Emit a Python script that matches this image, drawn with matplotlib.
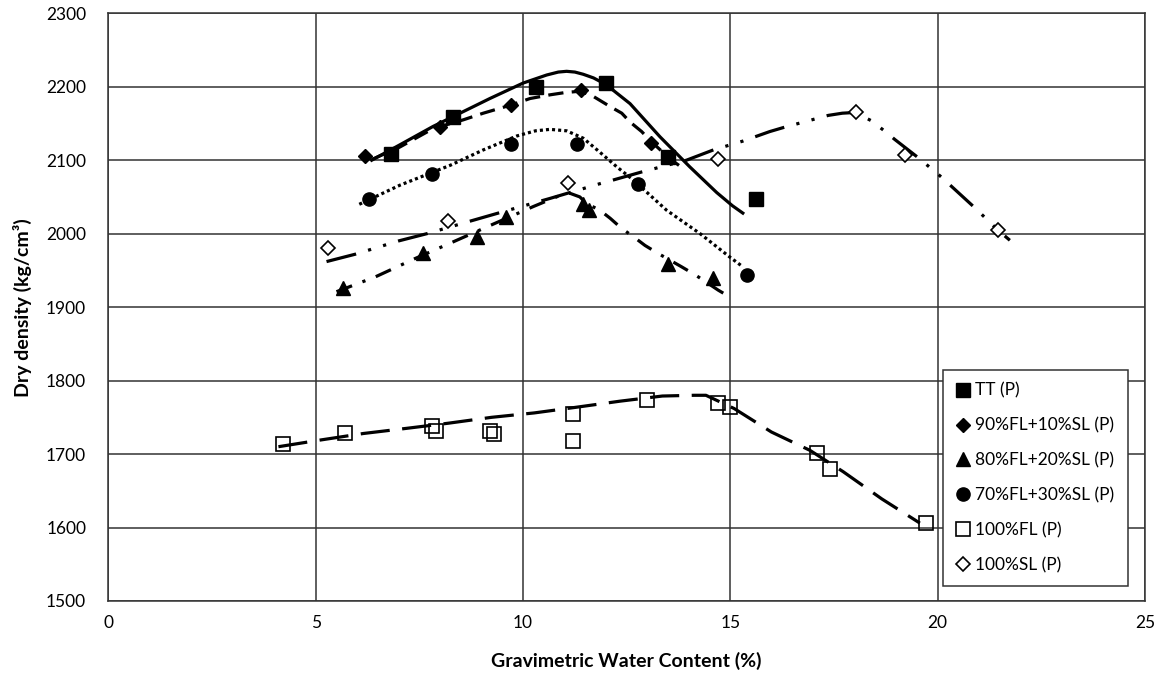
import matplotlib
matplotlib.use("Agg")
import matplotlib.pyplot as plt

plt.rcParams['font.family'] = ['Lato', 'DejaVu Sans']
plt.rcParams['lines.scale_dashes'] = False

# ---- measured points ----
tt_x = [6.81, 8.30, 10.30, 12.00, 13.49, 15.62]
tt_y = [2109, 2159, 2200, 2205, 2105, 2047]

fl90_x = [6.19, 7.99, 9.70, 11.39, 13.08]
fl90_y = [2106, 2145, 2175, 2195, 2124]

fl80_x = [5.66, 7.59, 8.90, 9.60, 11.45, 11.60, 13.50, 14.59]
fl80_y = [1926, 1974, 1996, 2023, 2040, 2032, 1959, 1939]

fl70_x = [6.29, 7.80, 9.70, 11.29, 12.78, 15.39]
fl70_y = [2047, 2081, 2122, 2122, 2068, 1944]

fl100_x = [4.20, 5.71, 7.80, 7.90, 9.20, 9.30, 11.20, 11.20, 13.00, 14.69, 15.00, 17.09, 17.40, 19.71]
fl100_y = [1714, 1729, 1738, 1732, 1732, 1727, 1754, 1718, 1773, 1770, 1764, 1701, 1679, 1606]

sl100_x = [5.30, 8.20, 11.09, 14.71, 18.03, 19.22, 21.45]
sl100_y = [1980, 2017, 2069, 2102, 2166, 2107, 2005]

# ---- fitted curves ----
tt_fit_x = [6.35, 7.03, 7.83, 8.48, 9.20, 10.00, 10.57, 10.85, 11.05, 11.25, 11.45, 11.70, 12.00, 12.58, 13.30, 14.02, 14.67, 15.05, 15.30]
tt_fit_y = [2100, 2121, 2146, 2164, 2184, 2205, 2216, 2220, 2221, 2220, 2217, 2212, 2203, 2177, 2132, 2091, 2056, 2038, 2028]

fl90_fit_x = [6.35, 7.03, 7.83, 8.56, 9.04, 9.70, 10.17, 10.65, 11.00, 11.39, 11.69, 12.10, 12.38, 12.58, 12.86, 13.08, 13.54, 13.88]
fl90_fit_y = [2101, 2118, 2143, 2155, 2164, 2175, 2184, 2189, 2192, 2194, 2187, 2173, 2164, 2152, 2139, 2126, 2102, 2088]

fl80_fit_x = [5.50, 6.43, 7.39, 8.32, 9.28, 10.25, 10.89, 11.13, 11.37, 11.53, 11.85, 12.10, 12.38, 12.66, 12.94, 13.26, 13.82, 14.15, 14.71, 14.95]
fl80_fit_y = [1921, 1941, 1966, 1989, 2013, 2037, 2052, 2055, 2050, 2041, 2032, 2021, 2007, 1996, 1984, 1973, 1955, 1944, 1923, 1915]

fl70_fit_x = [6.05, 7.03, 8.24, 9.04, 9.85, 10.30, 10.65, 11.05, 11.45, 11.85, 12.26, 12.66, 13.46, 14.27, 14.99, 15.25]
fl70_fit_y = [2040, 2066, 2093, 2114, 2133, 2140, 2142, 2140, 2130, 2111, 2091, 2073, 2032, 2000, 1968, 1957]

fl100_fit_x = [4.10, 5.10, 6.15, 7.19, 8.20, 9.24, 10.27, 11.32, 12.34, 13.36, 14.12, 14.41, 15.09, 15.99, 16.92, 17.72, 18.65, 19.57]
fl100_fit_y = [1710, 1719, 1728, 1735, 1742, 1750, 1756, 1764, 1772, 1779, 1780, 1780, 1762, 1730, 1705, 1676, 1639, 1606]

sl100_fit_x = [5.26, 5.95, 6.99, 7.68, 8.72, 9.40, 10.65, 11.13, 11.85, 12.17, 12.86, 13.94, 14.59, 15.30, 15.95, 16.31, 17.36, 17.70, 18.01, 18.39, 18.69, 18.97, 19.54, 20.09, 20.34, 20.90, 21.45, 21.74]
sl100_fit_y = [1962, 1972, 1990, 2000, 2017, 2028, 2048, 2056, 2068, 2073, 2084, 2100, 2114, 2126, 2139, 2145, 2161, 2164, 2165, 2154, 2141, 2128, 2103, 2077, 2064, 2035, 2005, 1991]

labels = ['TT (P)', '90%FL+10%SL (P)', '80%FL+20%SL (P)', '70%FL+30%SL (P)', '100%FL (P)', '100%SL (P)']
x_ticks = [0, 5, 10, 15, 20, 25]
y_ticks = [1500, 1600, 1700, 1800, 1900, 2000, 2100, 2200, 2300]

fig = plt.figure(figsize=(11.62, 6.78), dpi=100)
ax = fig.add_axes([0.0933, 0.1136, 0.8921, 0.8668])

lw = 2.3
ax.plot(tt_fit_x, tt_fit_y, color='black', lw=lw, ls='-', zorder=3)
ax.plot(fl90_fit_x, fl90_fit_y, color='black', lw=lw, ls=(0, (11, 6)), zorder=3)
ax.plot(fl80_fit_x, fl80_fit_y, color='black', lw=lw, ls=(0, (12, 8, 2.3, 8)), zorder=3)
ax.plot(fl70_fit_x, fl70_fit_y, color='black', lw=lw, ls=(0, (2.2, 2.2)), zorder=3)
ax.plot(fl100_fit_x, fl100_fit_y, color='black', lw=lw, ls=(0, (21, 9)), zorder=3)
ax.plot(sl100_fit_x, sl100_fit_y, color='black', lw=lw, ls=(0, (22, 9, 2.3, 9, 2.3, 9)), zorder=3)

ax.plot(tt_x, tt_y, ls='none', marker='s', ms=10, color='black', label=labels[0], zorder=5)
ax.plot(fl90_x, fl90_y, ls='none', marker='D', ms=7, color='black', label=labels[1], zorder=5)
ax.plot(fl80_x, fl80_y, ls='none', marker='^', ms=9.5, color='black', label=labels[2], zorder=5)
ax.plot(fl70_x, fl70_y, ls='none', marker='o', ms=9.5, color='black', label=labels[3], zorder=5)
ax.plot(fl100_x, fl100_y, ls='none', marker='s', ms=10, mfc='none', mec='black', mew=1.2, label=labels[4], zorder=5)
ax.plot(sl100_x, sl100_y, ls='none', marker='D', ms=7.5, mfc='white', mec='black', mew=1.2, label=labels[5], zorder=5)

ax.set_xlim(0, 25)
ax.set_ylim(1500, 2300)
ax.set_xticks(x_ticks)
ax.set_yticks(y_ticks)
ax.grid(True, color='#333333', lw=1.1, zorder=0)
ax.set_axisbelow(True)
for s in ax.spines.values():
    s.set_color('#333333')
    s.set_linewidth(1.1)
ax.tick_params(axis='both', length=0, labelsize=12.5, colors='black')
ax.tick_params(axis='y', pad=16)
ax.tick_params(axis='x', pad=10)

ax.set_xlabel('Gravimetric Water Content (%)', fontsize=14, fontweight='bold', labelpad=15, color='black')
ax.set_ylabel('Dry density (kg/cm³)', fontsize=14, fontweight='bold', labelpad=10, color='black')

leg = ax.legend(loc='upper left', bbox_to_anchor=(0.8054, 0.3936), fontsize=12.5,
                frameon=True, fancybox=False, edgecolor='#333333', framealpha=1,
                handlelength=0.8, handletextpad=0.3, labelspacing=1.08,
                borderpad=0.75, borderaxespad=0)
leg.get_frame().set_linewidth(1.1)

fig.savefig('out.png', dpi=100)
